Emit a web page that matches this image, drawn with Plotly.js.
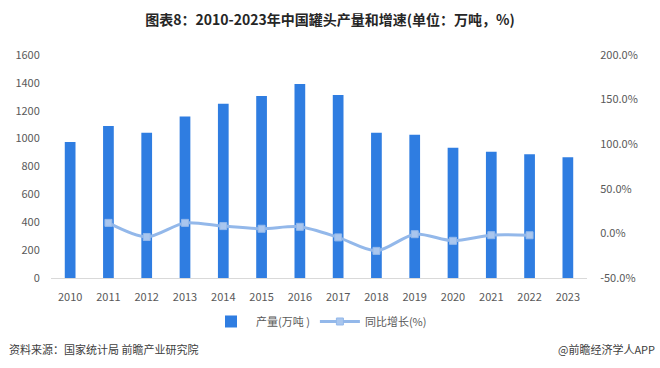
<!DOCTYPE html>
<html>
<head>
<meta charset="utf-8">
<script src="https://cdn.plot.ly/plotly-3.0.1.min.js"></script>
<style>html,body{margin:0;padding:0;background:#fff;}#chart{width:660px;height:368px;}</style>
</head>
<body>
<div id="chart"></div>
<script>
var years = ['2010','2011','2012','2013','2014','2015','2016','2017','2018','2019','2020','2021','2022','2023'];
var output = [975, 1090, 1042, 1158, 1250, 1305, 1392, 1313, 1042, 1028, 935, 906, 887, 866];
var growth = [null, 11.8, -4.0, 11.8, 8.2, 5.2, 7.4, -4.5, -19.6, -0.9, -8.3, -2.0, -2.1, null];
var growthYears = years.slice(0, 13);
var growthVals = growth.slice(0, 13);
var leftTicks = [0,200,400,600,800,1000,1200,1400,1600];
var rightTicks = [-50,0,50,100,150,200];
var rightLabels = ['-50.0%','0.0%','50.0%','100.0%','150.0%','200.0%'];

var font = '"Microsoft YaHei","Noto Sans CJK SC","Noto Sans",sans-serif';
var data = [
  {type:'bar', x:years, y:output, name:'产量(万吨 )', marker:{color:'#2f7de1'}, yaxis:'y'},
  {type:'scatter', mode:'lines+markers', x:growthYears, y:growthVals, name:'同比增长(%)', yaxis:'y2',
   line:{color:'#93b8ea', width:3, shape:'spline', smoothing:0.8},
   marker:{symbol:'square', size:7, color:'#a9c6ee', line:{color:'#93b8ea', width:1}}}
];
var layout = {
  width:660, height:368,
  margin:{l:51, r:73, t:55, b:90, autoexpand:false},
  paper_bgcolor:'#fff', plot_bgcolor:'#fff',
  font:{family:font, size:11, color:'#595959'},
  title:{text:'<b>图表8：2010-2023年中国罐头产量和增速(单位：万吨，%)</b>', x:0.5, xanchor:'center', y:0.945, yanchor:'middle',
    font:{family:font, size:14, color:'#262626'}},
  bargap:0.72,
  xaxis:{type:'category', range:[-0.5, 13.5], automargin:false, showgrid:false, showline:true, linecolor:'#d9d9d9', linewidth:1,
    ticks:'outside', ticklen:9, tickcolor:'rgba(0,0,0,0)', tickfont:{size:11, color:'#595959'}},
  yaxis:{range:[0,1600], automargin:false, tickvals:leftTicks, showgrid:false, zeroline:false, showline:false,
    ticks:'outside', ticklen:8, tickcolor:'rgba(0,0,0,0)', tickfont:{size:11, color:'#595959'}},
  yaxis2:{overlaying:'y', side:'right', automargin:false, range:[-50,200], tickvals:rightTicks, ticktext:rightLabels, showgrid:false, zeroline:false, showline:false,
    ticks:'outside', ticklen:10, tickcolor:'rgba(0,0,0,0)', tickfont:{size:11, color:'#595959'}},
  showlegend:true,
  legend:{orientation:'h', x:0.5, xanchor:'center', y:-0.13, yanchor:'top', font:{size:11, color:'#595959'}, itemwidth:40},
  annotations:[
    {text:'资料来源：国家统计局 前瞻产业研究院', xref:'paper', yref:'paper', x:-0.083, xanchor:'left', y:-0.32, yanchor:'middle', showarrow:false, font:{size:11, color:'#404040'}},
    {text:'@前瞻经济学人APP', xref:'paper', yref:'paper', x:1.13, xanchor:'right', y:-0.32, yanchor:'middle', showarrow:false, font:{size:11, color:'#404040'}}
  ]
};
Plotly.newPlot('chart', data, layout, {displayModeBar:false, staticPlot:true});
</script>
</body>
</html>
